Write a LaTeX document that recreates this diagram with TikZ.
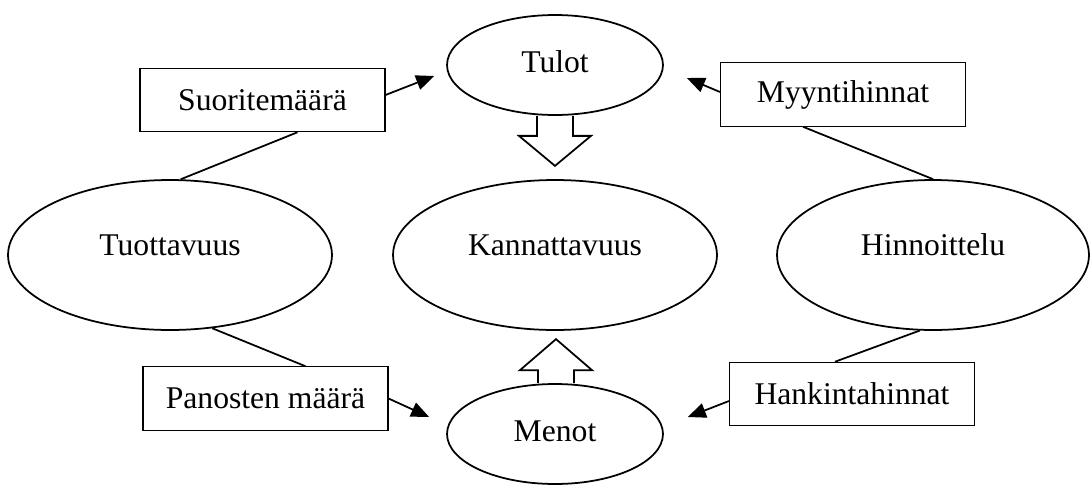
\documentclass[tikz,border=0pt]{standalone}
\usepackage{fontspec}
\setmainfont{Liberation Serif}
\usetikzlibrary{shapes.geometric, arrows.meta}

\begin{document}
\begin{tikzpicture}[x=0.02cm, y=-0.02cm, line width=1pt,
    every node/.style={font=\fontsize{18pt}{22pt}\selectfont},
    aspect/.style={ellipse, draw, minimum width=6.48cm, minimum height=3cm,
      text height=12pt, text depth=11pt},
    flow/.style={ellipse, draw, minimum width=4.32cm, minimum height=2cm,
      text height=12pt, text depth=4pt},
    factor/.style={rectangle, draw, line width=0.6pt,
      minimum width=4.9cm, minimum height=1.27cm},
    effect/.style={-{Triangle[length=0.36cm, width=0.3cm]}}]
  \useasboundingbox (0,0) rectangle (1091,484);

  % ellipses
  \node[flow] (tulot) at (555,65) {Tulot};
  \node[flow] (menot) at (555,434) {Menot};
  \node[aspect] (tuottavuus) at (170,255) {Tuottavuus};
  \node[aspect] (kannattavuus) at (555,255) {Kannattavuus};
  \node[aspect, minimum width=6.24cm] (hinnoittelu) at (933,255) {Hinnoittelu};

  % boxes
  \node[factor] (suorite) at (262.5,100) {Suoritemäärä};
  \node[factor] (myynti) at (843,94.5) {Myyntihinnat};
  \node[factor] (panokset) at (265.5,398.5) {Panosten määrä};
  \node[factor] (hankinta) at (852,394) {Hankintahinnat};

  % plain links
  \draw ([xshift=0.7cm]suorite.south) -- (tuottavuus.82);
  \draw ([xshift=-0.8cm]myynti.south) -- (hinnoittelu.north);
  \draw ([xshift=0.8cm]panokset.north) -- (tuottavuus.-60);
  \draw ([xshift=-0.34cm]hankinta.north) -- (hinnoittelu.260);

  % arrows
  \draw[effect] ([yshift=0.1cm]suorite.east) -- ([xshift=-0.24cm, yshift=-0.22cm]tulot.west);
  \draw[effect] ([yshift=0.05cm]myynti.west) -- ([xshift=0.46cm, yshift=-0.26cm]tulot.east);
  \draw[effect] (panokset.east) -- ([xshift=-0.34cm, yshift=0.34cm]menot.west);
  \draw[effect] ([yshift=-0.14cm]hankinta.west) -- ([xshift=0.48cm, yshift=0.34cm]menot.east);

  % block arrows
  \draw (tulot.south) ++(-18,0) -- ++(0,20) -- ++(-18,0) -- ++(36,30)
    -- ++(36,-30) -- ++(-18,0) -- ++(0,-20);
  \draw (menot.north) ++(-17,0) -- ++(0,-13) -- ++(-18,0) -- ++(36,-31)
    -- ++(36,31) -- ++(-18,0) -- ++(0,13);
\end{tikzpicture}
\end{document}
